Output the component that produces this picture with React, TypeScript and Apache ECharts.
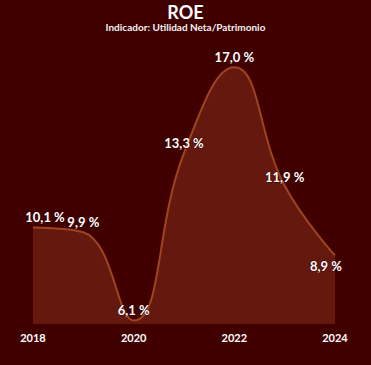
import React, { useEffect, useRef } from "react";
import * as echarts from "echarts";

const years = ["2018", "2019", "2020", "2021", "2022", "2023", "2024"];
const roe = [10.1, 9.9, 6.1, 13.3, 17.0, 11.9, 8.9];
const titleText = "ROE";
const subtitleText = "Indicador: Utilidad Neta/Patrimonio";

const labelPos = ["top", "top", "top", "top", "top", "top", "bottom"];
const labelOffsets = [[12, 0], [0, 0], [0, 0], [0, 0], [0, 0], [0, 2], [-9, 0]];

const FONT = "Lato, 'Open Sans', sans-serif";

export default function App() {
  const ref = useRef<HTMLDivElement>(null);
  useEffect(() => {
    if (!ref.current) return;
    const chart = echarts.init(ref.current, undefined, { renderer: "svg" });
    chart.setOption({
      animation: false,
      backgroundColor: "#400000",
      title: {
        text: titleText,
        subtext: subtitleText,
        left: "center",
        top: -2,
        itemGap: 1,
        textStyle: { color: "#ffffff", fontSize: 18, fontWeight: "bold", fontFamily: FONT },
        subtextStyle: { color: "#f2f2f2", fontSize: 10, fontWeight: "bold", fontFamily: FONT },
      },
      grid: { left: 33, right: 36, top: 44, bottom: 41 },
      xAxis: {
        type: "category",
        data: years,
        boundaryGap: false,
        axisLine: { show: false },
        axisTick: { show: false },
        axisLabel: {
          interval: 1,
          color: "#ffffff",
          fontWeight: "bold",
          fontSize: 11,
          fontFamily: FONT,
          margin: 8,
        },
      },
      yAxis: {
        type: "value",
        min: 5.95,
        max: 18,
        show: false,
        splitLine: { show: false },
      },
      series: [
        {
          type: "line",
          data: roe.map((v, i) => ({
            value: v,
            label: { position: labelPos[i], offset: labelOffsets[i] },
          })),
          smooth: 0.45,
          symbol: "circle",
          symbolSize: 0,
          showSymbol: true,
          itemStyle: { color: "#a0441e" },
          lineStyle: { color: "#a0441e", width: 2 },
          areaStyle: { color: "#64180e", opacity: 1, origin: "start" },
          label: {
            show: true,
            formatter: (p: any) => Number(p.value).toFixed(1).replace(".", ",") + " %",
            color: "#ffffff",
            fontWeight: "bold",
            fontSize: 13,
            fontFamily: FONT,
            textBorderColor: "#3a0000",
            textBorderWidth: 1,
            distance: 4,
          },
        },
      ],
    });
    return () => chart.dispose();
  }, []);
  return <div ref={ref} style={{ position: "fixed", left: 0, top: 0, width: 371, height: 365 }} />;
}
